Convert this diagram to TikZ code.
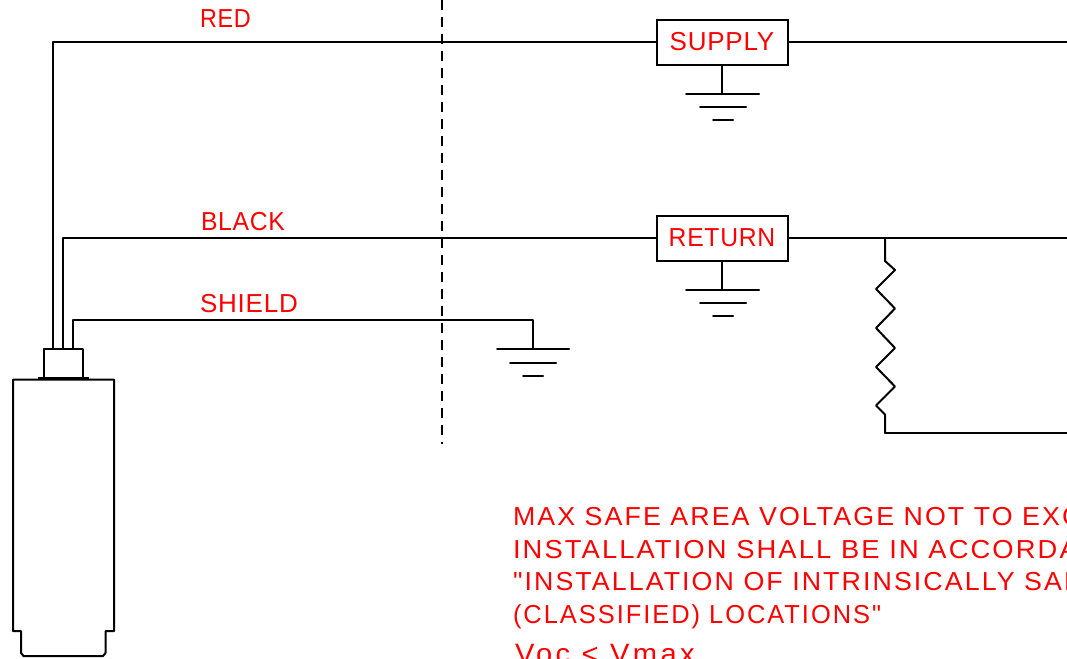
\documentclass[tikz,border=0pt]{standalone}
\usepackage{fontspec}
\usepackage{graphicx}
\newfontfamily\cadfont[FakeStretch=1.03,LetterSpace=8]{Liberation Sans}
\newfontfamily\cadtagfont[LetterSpace=3]{Liberation Sans}
\newfontfamily\cadbigfont[FakeStretch=1.04,LetterSpace=12]{Liberation Sans}
\definecolor{cadred}{RGB}{255,0,0}
\tikzset{
  x=1pt,y=-1pt,
  wire/.style={draw=black,line width=2pt,line join=round,line cap=round},
  captext/.style={text height=18.6pt,text depth=0pt},
  cadlabel/.style={anchor=west,inner sep=0pt,outer sep=0pt,captext,text=cadred,font=\cadfont\fontsize{26}{26}\selectfont},
  cadtag/.style={anchor=west,inner sep=0pt,outer sep=0pt,captext,text=cadred,font=\cadtagfont\fontsize{26}{26}\selectfont},
  tagbox/.style={draw=black,line width=2pt,minimum width=131pt,minimum height=45pt,inner sep=0pt,text=cadred,font=\cadtagfont\fontsize{26}{26}\selectfont},
}
\begin{document}
\begin{tikzpicture}
\useasboundingbox (0,0) rectangle (1067,658);
\clip (0,0) rectangle (1067,658);
% boxes
\node[tagbox] (supply) at (722,42.5) {\raisebox{1.5pt}{SUPPLY}};
\node[tagbox] (return) at (722,238) {\scalebox{0.95}[1]{RETURN}};
% free coordinates
\coordinate (redend) at (1067,42.5);
\coordinate (blackend) at (1067,238);
\coordinate (resbot) at (885,433);
\coordinate (resend) at (1067,433);
\coordinate (restop) at (885,238);
\coordinate (redbase) at (53,349);
\coordinate (blackbase) at (63,349);
\coordinate (shieldbase) at (73,349);
\coordinate (shieldgnd) at (533,349);
% wires
\draw[wire] (redbase) |- (supply.west);
\draw[wire] (blackbase) |- (return.west);
\draw[wire] (shieldbase) -- (73,320) -- (533,320) -- (shieldgnd);
\draw[wire] (supply.east) -- (redend);
\draw[wire] (return.east) -- (blackend);
\draw[wire] (resbot) -- (resend);
% grounds
\draw[wire] (supply.south) -- (722,94);
\draw[wire] (686,94) -- (759,94) (700,107) -- (746,107) (713,120) -- (733,120);
\draw[wire] (return.south) -- (722,290);
\draw[wire] (686,290) -- (759,290) (700,303) -- (746,303) (713,316) -- (733,316);
\draw[wire] (497,349) -- (569,349) (510,363) -- (556,363) (523,376) -- (543,376);
% resistor
\draw[wire] (restop) -- (885,261) -- (895,270) -- (876,289) -- (895,308.5) -- (876,328) -- (895,348) -- (876,367) -- (895,386.5) -- (876,405.5) -- (885,414.5) -- (resbot);
% dashed boundary
\draw[line width=2pt,dash pattern=on 10pt off 7pt] (442,0) -- (442,444);
% sensor
\draw[wire] (44,378) -- (44,349) -- (83,349) -- (83,378);
\draw[line width=2.6pt] (38,378.5) -- (88.5,378.5);
\draw[wire] (13,379.5) -- (114,379.5) -- (114,631) -- (105.5,631) -- (105.5,653) -- (103,656) -- (23.5,656) -- (21,653) -- (21,631) -- (13,631) -- cycle;
% labels
\node[cadtag] (lred) at (200,18) {\scalebox{0.9}[1]{RED}};
\node[cadtag] (lblack) at (201,221) {\scalebox{0.95}[1]{BLACK}};
\node[cadtag] (lshield) at (200,303) {SHIELD};
\node[cadlabel] (n1) at (513,516.5) {MAX SAFE AREA VOLTAGE NOT TO EXC};
\node[cadlabel] (n2) at (513,549) {\scalebox{1.02}[1]{INSTALLATION SHALL BE IN ACCORDAN}};
\node[cadlabel] (n3) at (513,581.5) {"INSTALLATION OF INTRINSICALLY SAF};
\node[cadlabel] (n4) at (513,614) {\scalebox{0.95}[1]{(CLASSIFIED) LOCATIONS"}};
\node[cadlabel,font=\cadbigfont\fontsize{28}{28}\selectfont,text height=20pt] (n5) at (515,653) {Voc < Vmax};
\end{tikzpicture}
\end{document}
